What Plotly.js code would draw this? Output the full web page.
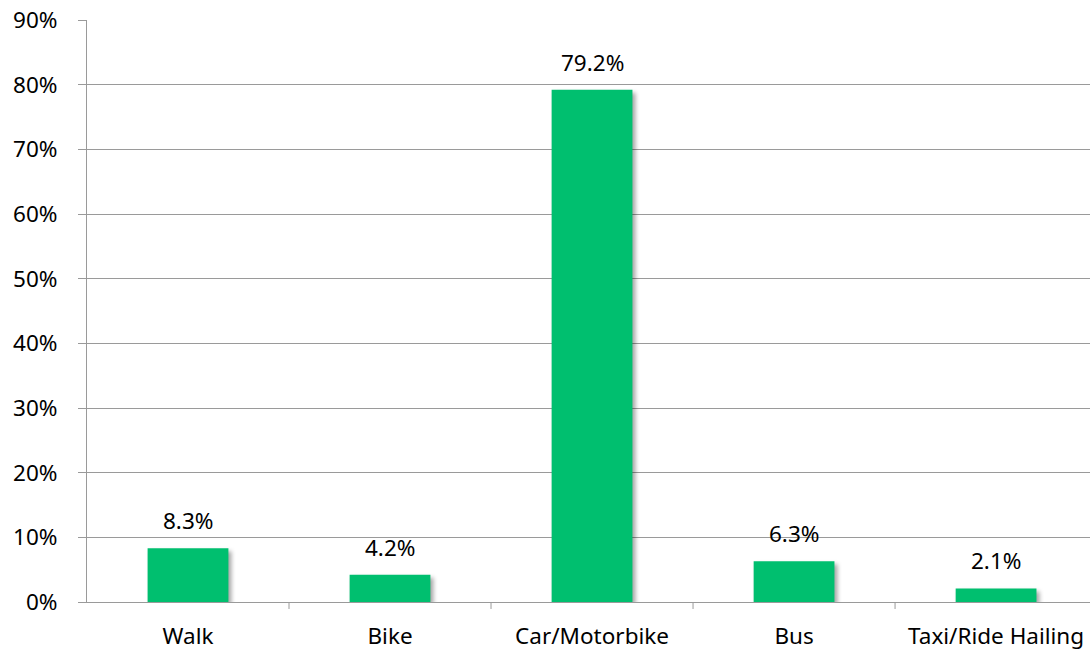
<!DOCTYPE html>
<html><head><meta charset="utf-8">
<script src="https://cdn.plot.ly/plotly-3.0.1.min.js"></script>
<style>
html,body{margin:0;padding:0;background:#fff;}
#chart .bars .point path{filter:drop-shadow(3px 3px 2px rgba(0,0,0,0.35));}
</style>
</head><body>
<div id="chart" style="width:1090px;height:650px;"></div>
<script>
const categories = ["Walk", "Bike", "Car/Motorbike", "Bus", "Taxi/Ride Hailing"];
const shares = [8.3, 4.2, 79.2, 6.3, 2.1];
const labels = ["8.3%", "4.2%", "79.2%", "6.3%", "2.1%"];
const yTickVals = [0,10,20,30,40,50,60,70,80,90];
const yTickText = ["0%","10%","20%","30%","40%","50%","60%","70%","80%","90%"];

const FONT = "Noto Sans, Open Sans, sans-serif";
const FS = 22.5;
const trace = {
  type: "bar", x: [0,1,2,3,4], y: shares, width: 0.4,
  marker: {color: "#00BF6F", line: {width: 0}},
  hoverinfo: "none"
};
const annotations = shares.map((v,i)=>({
  x: i, y: v, xref: "x", yref: "y", text: labels[i], showarrow: false,
  yanchor: "bottom", yshift: 10, font: {family: FONT, size: FS, color: "#000"}
}));
const layout = {
  width: 1090, height: 650,
  margin: {l: 87, r: 0, t: 20, b: 48, pad: 0},
  paper_bgcolor: "#fff", plot_bgcolor: "#fff",
  showlegend: false,
  font: {family: FONT, size: FS, color: "#000"},
  xaxis: {
    range: [-0.5, 4.465], tickmode: "array", tickvals: [0,1,2,3,4], ticktext: categories,
    tickfont: {family: FONT, size: FS, color: "#000"},
    showgrid: false, zeroline: false, showline: true, linecolor: "#9a9a9a", linewidth: 1,
    ticks: "", ticklabelstandoff: 14,
    fixedrange: true
  },
  yaxis: {
    range: [0, 90], tickmode: "array", tickvals: yTickVals, ticktext: yTickText,
    tickfont: {family: FONT, size: FS, color: "#000"},
    showgrid: true, gridcolor: "#9a9a9a", gridwidth: 1, zeroline: false,
    showline: true, linecolor: "#9a9a9a", linewidth: 1,
    ticks: "outside", ticklen: 8, tickcolor: "#9a9a9a", ticklabelstandoff: 16,
    fixedrange: true
  },
  shapes: [0.5,1.5,2.5,3.5].map(b=>({type:"line", xref:"x", yref:"paper", x0:b, x1:b, y0:0, y1:-0.012, line:{color:"#9a9a9a", width:1}})),
  annotations: annotations
};
Plotly.newPlot("chart", [trace], layout, {displayModeBar: false, staticPlot: true});
</script>
</body></html>
